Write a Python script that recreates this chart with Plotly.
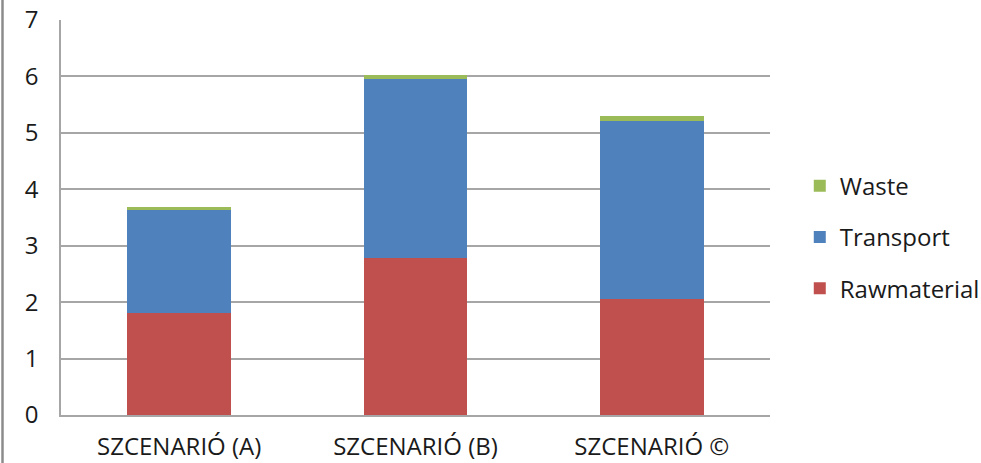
import plotly.graph_objects as go

scenarios = ["SZCENARIÓ (A)", "SZCENARIÓ (B)", "SZCENARIÓ ©"]
rawmaterial = [1.81, 2.79, 2.06]
transport = [1.83, 3.16, 3.15]
waste = [0.05, 0.07, 0.08]

series = [
    ("Rawmaterial", rawmaterial, "#C0504D", 3),
    ("Transport", transport, "#4F81BD", 2),
    ("Waste", waste, "#9BBB59", 1),
]

FONT = "Open Sans"
TEXT = "#1a1a1a"

fig = go.Figure()
for name, vals, color, rank in series:
    fig.add_trace(go.Bar(
        x=scenarios, y=vals, name=name, legendgroup=name, legendrank=rank,
        marker=dict(color=color, line=dict(width=0)),
        width=0.44,
    ))

W, H = 981, 463
L, R, T, B = 61, 211, 20, 48
pw, ph = W - L - R, H - T - B

fig.update_layout(
    width=W, height=H,
    margin=dict(l=L, r=R, t=T, b=B, autoexpand=False),
    barmode="stack",
    paper_bgcolor="white",
    plot_bgcolor="white",
    font=dict(family=FONT, size=24, color=TEXT),
    showlegend=True,
    legend=dict(
        x=1.042, y=0.45, xanchor="left", yanchor="middle",
        traceorder="grouped", tracegroupgap=17,
        font=dict(family=FONT, size=24, color=TEXT),
        itemwidth=30,
    ),
    xaxis=dict(
        showgrid=False, showline=True, linecolor="#a6a6a6", linewidth=1.5,
        ticks="", tickfont=dict(size=24), ticklabelstandoff=9, automargin=False,
    ),
    yaxis=dict(
        range=[0, 7], dtick=1, showgrid=True, gridcolor="#a6a6a6", gridwidth=1.5,
        showline=True, linecolor="#a6a6a6", linewidth=1.5,
        ticks="", zeroline=False, tickfont=dict(size=24), ticklabelstandoff=16,
        automargin=False,
    ),
)

# Outer frame line along the left edge of the figure
fig.add_shape(
    type="line", xref="paper", yref="paper",
    x0=(2.5 - L) / pw, x1=(2.5 - L) / pw,
    y0=-B / ph, y1=(H - B) / ph,
    line=dict(color="#8c8c8c", width=2.5),
)

fig.write_html("out.html")
